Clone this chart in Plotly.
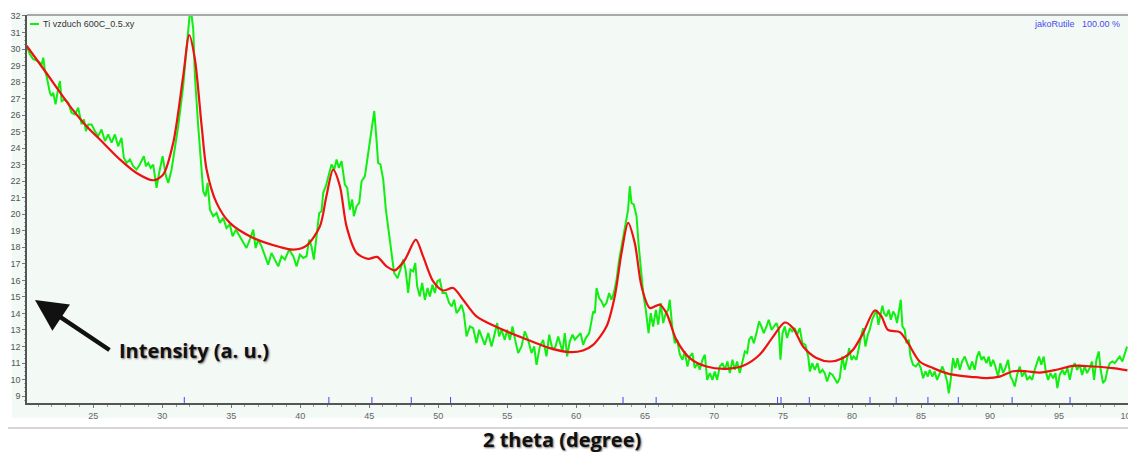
import plotly.graph_objects as go

# ---------------- data ----------------
two_theta_obs = [
    20.17, 20.41, 20.65, 21.0, 21.26, 21.38, 21.5, 21.62, 21.86, 21.98, 22.1, 22.27, 22.47, 22.59, 22.71,
    22.95, 23.19, 23.43, 23.67, 23.91, 24.16, 24.33, 24.47, 24.64, 24.88, 25.12, 25.36, 25.6, 25.85, 26.09,
    26.33, 26.57, 26.81, 27.05, 27.22, 27.42, 27.66, 27.9, 28.14, 28.38, 28.67, 28.82, 28.99, 29.16, 29.35,
    29.59, 29.78, 30.03, 30.27, 30.44, 30.68, 30.92, 31.16, 31.4, 31.52, 31.69, 31.89, 32.05, 32.25, 32.37,
    32.61, 32.85, 32.97, 33.14, 33.29, 33.46, 33.7, 33.94, 34.18, 34.42, 34.66, 34.9, 35.1, 35.34, 35.63,
    35.87, 36.11, 36.35, 36.6, 36.77, 36.96, 37.2, 37.44, 37.68, 37.92, 38.17, 38.41, 38.65, 38.89, 39.2,
    39.5, 39.74, 39.98, 40.22, 40.46, 40.65, 40.82, 40.99, 41.19, 41.38, 41.55, 41.67, 41.86, 42.03, 42.27,
    42.47, 42.64, 42.8, 43.0, 43.24, 43.41, 43.6, 43.77, 43.89, 44.09, 44.28, 44.45, 44.69, 44.93, 45.17,
    45.37, 45.53, 45.65, 45.82, 46.02, 46.21, 46.38, 46.62, 46.81, 47.06, 47.3, 47.47, 47.64, 47.83, 48.0,
    48.19, 48.34, 48.48, 48.67, 48.84, 49.04, 49.23, 49.4, 49.59, 49.76, 49.93, 50.12, 50.32, 50.56, 50.8,
    50.99, 51.16, 51.33, 51.52, 51.69, 51.86, 52.06, 52.3, 52.54, 52.78, 52.97, 53.19, 53.38, 53.63, 53.87,
    54.11, 54.28, 54.42, 54.59, 54.83, 55.0, 55.2, 55.39, 55.58, 55.8, 56.04, 56.28, 56.52, 56.77, 56.96,
    57.13, 57.37, 57.61, 57.85, 58.05, 58.29, 58.51, 58.7, 59.01, 59.18, 59.35, 59.54, 59.74, 59.91, 60.15,
    60.32, 60.51, 60.7, 60.95, 61.11, 61.24, 61.36, 61.48, 61.67, 61.84, 62.01, 62.2, 62.39, 62.56, 62.73,
    62.93, 63.12, 63.29, 63.46, 63.65, 63.77, 63.89, 64.01, 64.18, 64.38, 64.52, 64.67, 64.86, 65.05, 65.25,
    65.41, 65.58, 65.78, 65.95, 66.14, 66.31, 66.5, 66.67, 66.79, 66.96, 67.15, 67.32, 67.52, 67.71, 67.88,
    68.07, 68.24, 68.43, 68.6, 68.8, 68.96, 69.16, 69.33, 69.5, 69.69, 69.88, 70.05, 70.22, 70.41, 70.61,
    70.78, 70.97, 71.14, 71.33, 71.5, 71.67, 71.86, 72.06, 72.23, 72.4, 72.54, 72.71, 72.88, 73.07, 73.26,
    73.43, 73.6, 73.8, 73.96, 74.16, 74.33, 74.52, 74.69, 74.81, 74.96, 75.12, 75.29, 75.49, 75.66, 75.85,
    76.02, 76.21, 76.4, 76.62, 76.82, 76.94, 77.11, 77.3, 77.49, 77.66, 77.85, 78.02, 78.19, 78.39, 78.58,
    78.75, 78.94, 79.11, 79.3, 79.47, 79.64, 79.79, 79.96, 80.12, 80.32, 80.49, 80.63, 80.8, 80.97, 81.14,
    81.28, 81.45, 81.62, 81.77, 81.91, 82.06, 82.2, 82.32, 82.49, 82.66, 82.81, 82.98, 83.12, 83.26, 83.41,
    83.53, 83.65, 83.82, 83.94, 84.11, 84.23, 84.42, 84.62, 84.81, 84.98, 85.15, 85.32, 85.49, 85.63, 85.82,
    85.99, 86.16, 86.36, 86.55, 86.72, 86.89, 87.01, 87.15, 87.32, 87.49, 87.64, 87.81, 87.97, 88.17, 88.34,
    88.53, 88.7, 88.89, 89.06, 89.21, 89.38, 89.54, 89.74, 89.91, 90.05, 90.22, 90.39, 90.58, 90.75, 90.95,
    91.11, 91.31, 91.48, 91.62, 91.79, 91.96, 92.15, 92.32, 92.52, 92.69, 92.88, 93.05, 93.24, 93.41, 93.55,
    93.72, 93.89, 94.04, 94.21, 94.38, 94.57, 94.74, 94.88, 95.05, 95.25, 95.41, 95.61, 95.78, 95.95, 96.14,
    96.31, 96.5, 96.67, 96.86, 97.03, 97.22, 97.39, 97.54, 97.71, 97.88, 98.02, 98.19, 98.36, 98.51, 98.68,
    98.87, 99.04, 99.21, 99.4, 99.59, 99.76, 99.93,
]
intensity_obs = [
    30.18, 29.68, 29.38, 29.27, 29.07, 29.48, 28.67, 28.37, 27.36, 27.15, 27.36, 26.65, 27.66, 28.06, 26.85,
    26.95, 26.75, 26.14, 26.04, 26.45, 25.44, 25.74, 25.03, 25.44, 25.44, 25.03, 24.73, 25.13, 24.43, 24.83,
    24.33, 24.83, 24.12, 24.63, 23.42, 23.11, 23.32, 22.91, 22.71, 23.01, 23.52, 22.91, 23.11, 22.81, 23.01,
    21.6, 22.51, 23.52, 22.31, 21.9, 22.71, 23.92, 25.33, 26.95, 27.76, 29.38, 31.4, 32.6, 31.2, 28.37,
    25.33, 22.71, 21.4, 21.09, 21.9, 20.28, 19.88, 20.08, 19.48, 19.78, 19.17, 19.38, 18.67, 19.07, 18.67,
    18.26, 17.96, 18.47, 19.07, 17.96, 18.47, 18.06, 17.46, 16.95, 17.66, 17.26, 16.85, 17.46, 17.26, 17.86,
    17.46, 16.85, 17.56, 17.36, 17.46, 18.47, 18.06, 17.26, 18.67, 20.08, 20.18, 21.3, 21.7, 22.2, 23.01,
    22.71, 23.32, 22.81, 23.21, 21.8, 21.6, 20.28, 20.89, 19.88, 20.49, 20.69, 22.0, 22.3, 23.62, 25.13,
    26.25, 24.53, 23.11, 23.01, 22.1, 20.28, 19.07, 17.66, 16.45, 16.14, 16.75, 17.26, 16.65, 15.24, 16.65,
    16.55, 17.05, 15.64, 15.03, 15.84, 14.83, 15.54, 15.03, 15.74, 15.24, 15.94, 16.04, 15.24, 15.24, 14.63,
    14.43, 14.83, 14.02, 14.23, 14.53, 14.02, 12.61, 13.21, 13.11, 12.2, 13.01, 12.51, 12.1, 12.81, 12.0,
    12.81, 13.42, 12.61, 13.01, 12.4, 13.01, 12.4, 13.21, 12.4, 11.6, 12.0, 12.91, 12.4, 11.6, 12.0,
    10.89, 12.0, 12.4, 11.4, 12.71, 11.8, 12.0, 12.61, 11.7, 12.81, 11.4, 12.31, 12.71, 12.41, 12.61,
    12.81, 12.1, 12.51, 12.81, 13.42, 14.12, 14.02, 15.54, 14.93, 14.73, 14.43, 14.63, 15.23, 14.83, 15.23,
    16.04, 17.25, 18.06, 18.67, 19.68, 20.28, 21.7, 20.69, 20.59, 19.88, 18.26, 16.85, 15.23, 14.22, 12.81,
    14.02, 13.21, 14.22, 13.32, 14.63, 13.42, 14.02, 14.22, 14.83, 13.21, 12.2, 12.41, 11.5, 11.2, 11.7,
    10.79, 11.4, 11.6, 10.69, 10.99, 10.59, 11.2, 11.5, 9.98, 10.39, 9.98, 10.49, 9.98, 10.79, 10.99,
    10.59, 11.09, 10.39, 11.2, 10.59, 11.09, 10.39, 11.2, 11.7, 11.6, 12.41, 12.61, 12.2, 12.81, 13.52,
    13.21, 12.81, 13.21, 13.62, 13.01, 13.21, 13.42, 13.01, 11.2, 12.81, 13.21, 12.51, 13.11, 12.91, 13.11,
    12.71, 13.11, 12.2, 12.1, 11.4, 10.49, 10.99, 10.59, 10.99, 10.39, 10.59, 10.39, 9.88, 10.39, 10.29,
    10.08, 9.78, 10.1, 11.4, 10.59, 11.19, 11.9, 11.19, 11.4, 11.19, 12.0, 12.5, 13.11, 12.0, 12.71,
    13.01, 13.62, 13.92, 14.22, 13.31, 13.82, 14.47, 14.02, 13.82, 14.22, 13.62, 14.12, 13.92, 13.42, 14.12,
    14.83, 13.21, 13.01, 12.2, 12.41, 11.4, 10.89, 10.79, 10.99, 10.69, 10.08, 10.49, 10.18, 10.59, 10.18,
    10.49, 9.98, 10.39, 10.79, 10.39, 9.88, 9.17, 9.98, 11.29, 10.69, 11.29, 10.59, 11.09, 11.39, 10.99,
    10.59, 11.09, 10.59, 11.39, 11.7, 11.19, 11.39, 10.99, 11.39, 10.79, 11.19, 10.79, 10.18, 10.99, 10.39,
    10.69, 11.19, 10.18, 9.98, 9.58, 10.28, 10.79, 10.18, 10.49, 9.98, 10.18, 9.98, 10.59, 10.99, 11.39,
    10.89, 11.39, 10.49, 9.98, 10.39, 10.08, 10.39, 9.48, 10.28, 10.59, 10.28, 10.69, 9.98, 10.69, 10.99,
    10.59, 10.89, 10.28, 10.79, 10.39, 10.69, 11.09, 9.98, 11.19, 11.7, 10.59, 9.78, 9.98, 10.59, 10.99,
    11.09, 10.99, 11.19, 11.39, 11.09, 11.59, 11.99,
]

two_theta_fit = [
    20.17, 21.5, 23.31, 24.52, 25.72, 26.93, 28.14, 29.35, 30.07, 30.8, 31.52, 31.96, 32.37, 32.86, 33.22,
    33.94, 34.9, 36.6, 38.53, 39.5, 40.46, 41.43, 41.9, 42.39, 42.88, 43.36, 44.09, 44.93, 45.58, 46.26,
    46.86, 47.59, 48.38, 48.91, 49.64, 50.36, 51.09, 51.81, 52.78, 54.23, 56.16, 58.09, 59.54, 60.5, 61.23,
    62.2, 62.8, 63.29, 63.77, 64.25, 64.74, 65.34, 66.07, 66.55, 67.27, 68.24, 69.45, 70.9, 72.1, 73.3,
    74.28, 75.12, 75.72, 76.45, 77.42, 78.38, 79.35, 80.07, 80.8, 81.64, 82.13, 82.6, 83.46, 84.06, 84.9,
    85.87, 87.08, 88.77, 89.74, 90.7, 91.67, 92.64, 93.6, 94.81, 96.0, 97.46, 98.9, 99.96,
]
intensity_fit = [
    30.2, 28.67, 26.55, 25.33, 24.33, 23.32, 22.5, 22.06, 22.4, 24.33, 28.36, 30.85, 29.38, 25.33, 22.7,
    20.69, 19.48, 18.57, 18.02, 17.86, 18.1, 19.27, 21.09, 22.7, 21.7, 19.27, 17.66, 17.3, 17.42, 16.85,
    16.61, 17.25, 18.47, 17.45, 15.94, 15.39, 15.54, 14.83, 13.82, 13.18, 12.51, 11.9, 11.66, 11.76, 12.1,
    13.21, 15.03, 17.66, 19.48, 18.27, 15.64, 14.33, 14.53, 14.02, 12.4, 11.3, 10.79, 10.65, 10.83, 11.5,
    12.6, 13.45, 13.12, 12.0, 11.3, 11.09, 11.3, 11.8, 12.81, 14.18, 13.82, 13.0, 12.87, 12.2, 11.09,
    10.69, 10.33, 10.15, 10.09, 10.18, 10.5, 10.5, 10.42, 10.59, 10.83, 10.79, 10.69, 10.55,
]

rutile_positions = [31.6, 42.08, 45.2, 48.05, 50.9, 63.4, 65.8, 74.6, 74.85, 76.9, 81.3,
                    83.2, 85.5, 87.7, 91.6, 95.8]

x_tick_values = [25, 30, 35, 40, 45, 50, 55, 60, 65, 70, 75, 80, 85, 90, 95, 100]
y_tick_values = list(range(9, 33))

sample_name = "Ti vzduch 600C_0.5.xy"
phase_label = "jakoRutile   100.00 %"

# ---------------- figure ----------------
W, H = 1128, 452
ML, MR, MT, MB = 27, 0, 15, 49
PW = W - ML - MR
PH = H - MT - MB


def px_x(p):
    return (p - ML) / PW


def px_y(p):
    return (H - MB - p) / PH


PANEL = "#f3f9f5"

fig = go.Figure()
fig.add_trace(go.Scatter(
    x=two_theta_obs, y=intensity_obs, mode="lines",
    line=dict(color="#11ee11", width=2), hoverinfo="skip", showlegend=False))
fig.add_trace(go.Scatter(
    x=two_theta_fit, y=intensity_fit, mode="lines",
    line=dict(color="#ee1111", width=2.2, shape="spline", smoothing=0.8),
    hoverinfo="skip", showlegend=False))

shapes = [
    # light panel behind the chart
    dict(type="rect", xref="paper", yref="paper", layer="below",
         x0=px_x(12), x1=1, y0=px_y(418), y1=px_y(12),
         fillcolor=PANEL, line=dict(width=0)),
    # top frame line
    dict(type="line", xref="paper", yref="paper", x0=0, x1=1, y0=1, y1=1,
         line=dict(color="#a8a8a8", width=2)),
    # separator line below the chart
    dict(type="line", xref="paper", yref="paper", x0=px_x(8), x1=1,
         y0=px_y(428), y1=px_y(428), line=dict(color="#c8c8c8", width=1.5)),
    # legend sample line
    dict(type="line", xref="paper", yref="paper", x0=px_x(30), x1=px_x(39),
         y0=px_y(24), y1=px_y(24), line=dict(color="#11ee11", width=2)),
]
for pos in rutile_positions:
    shapes.append(dict(type="line", xref="x", yref="paper", x0=pos, x1=pos,
                       y0=0, y1=6 / PH, line=dict(color="#4040ff", width=1)))

outline = ("1px 1px 2px #777, -1px -1px 0 #fff, 1px -1px 0 #fff, "
           "-1px 1px 0 #fff, 1px 1px 0 #fff")

annotations = [
    dict(xref="paper", yref="paper", x=px_x(41), y=px_y(24), text=sample_name,
         showarrow=False, xanchor="left", yanchor="middle",
         font=dict(family="Liberation Sans, Arial", size=9, color="#333333")),
    dict(xref="paper", yref="paper", x=px_x(1122), y=px_y(24), text=phase_label,
         showarrow=False, xanchor="right", yanchor="middle",
         font=dict(family="Liberation Sans, Arial", size=9, color="#4a4aee")),
    # arrow
    dict(xref="paper", yref="paper", x=px_x(35), y=px_y(300), text="",
         showarrow=True, ax=76, ay=51, axref="pixel", ayref="pixel",
         arrowhead=2, arrowsize=1.4, arrowwidth=4.5, arrowcolor="#111111"),
    dict(xref="paper", yref="paper", x=px_x(117), y=px_y(350),
         text="<b>Intensity (a. u.)</b>", showarrow=False,
         xanchor="left", yanchor="middle",
         font=dict(family="Open Sans", size=20, color="#111111", shadow=outline)),
    dict(xref="paper", yref="paper", x=px_x(562), y=px_y(439),
         text="<b>2 theta (degree)</b>", showarrow=False,
         xanchor="center", yanchor="middle",
         font=dict(family="Open Sans", size=20, color="#111111", shadow=outline)),
]

fig.update_layout(
    width=W, height=H,
    margin=dict(l=ML, r=MR, t=MT, b=MB, pad=0, autoexpand=False),
    paper_bgcolor="white", plot_bgcolor=PANEL,
    showlegend=False,
    shapes=shapes, annotations=annotations,
    xaxis=dict(range=[20.2, 100], tickmode="array", tickvals=x_tick_values,
               ticktext=[str(v) for v in x_tick_values],
               ticklabeloverflow="allow", automargin=False,
               showgrid=False, zeroline=False, showline=True,
               linecolor="#555555", linewidth=1.5,
               ticks="outside", ticklen=3, tickcolor="#777777",
               minor=dict(dtick=1, ticks="outside", ticklen=2, tickcolor="#999999"),
               tickfont=dict(family="Liberation Sans, Arial", size=9, color="#666666")),
    yaxis=dict(range=[8.58, 32.06], tickmode="array", tickvals=y_tick_values,
               ticktext=[str(v) for v in y_tick_values],
               automargin=False,
               showgrid=False, zeroline=False, showline=True,
               linecolor="#555555", linewidth=1.5,
               ticks="outside", ticklen=3, tickcolor="#777777",
               minor=dict(dtick=0.25, ticks="outside", ticklen=1.5, tickcolor="#aaaaaa"),
               tickfont=dict(family="Liberation Sans, Arial", size=9, color="#555555")),
)

fig.write_html(
    "out.html",
    config={"displayModeBar": False},
    post_script=(
        "document.documentElement.style.overflow='hidden';"
        "document.body.style.margin='0';document.body.style.overflow='hidden';"
    ),
)
